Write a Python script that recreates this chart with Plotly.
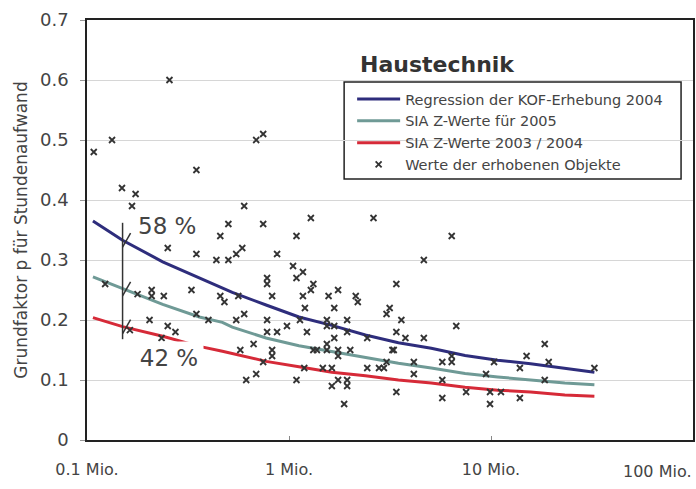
import numpy as np
import plotly.graph_objects as go

# ---- data (x in Mio., y = Grundfaktor p) ----
line_x = [0.107, 0.150, 0.237, 0.360, 0.468, 0.524, 0.770, 1.12, 1.63, 2.39,
          3.48, 5.06, 7.44, 10.8, 15.7, 23.2, 32.5]
kof_2004 = [0.365, 0.333, 0.297, 0.270, 0.252, 0.246, 0.225, 0.205, 0.191, 0.175,
            0.162, 0.153, 0.141, 0.133, 0.127, 0.120, 0.113]
sia_2005 = [0.272, 0.252, 0.226, 0.205, 0.196, 0.188, 0.170, 0.157, 0.147, 0.138,
            0.128, 0.120, 0.111, 0.105, 0.100, 0.095, 0.092]
sia_2003_2004 = [0.204, 0.189, 0.173, 0.156, 0.148, 0.144, 0.131, 0.122, 0.113, 0.107,
                 0.100, 0.095, 0.088, 0.083, 0.080, 0.075, 0.073]

obj_x = [0.256, 0.133, 0.108, 0.688, 0.745, 0.348, 0.149, 0.174, 0.167, 0.600,
         0.501, 0.745, 0.457, 1.089, 0.251, 0.587, 0.348, 0.437, 0.501, 0.548,
         0.873, 1.047, 1.089, 0.779, 0.779, 0.123, 0.178, 0.209, 0.209, 0.240,
         0.329, 0.457, 0.479, 0.825, 0.348, 0.600, 0.399, 0.548, 0.779, 0.204,
         0.163, 0.251, 0.274, 0.779, 0.873, 0.977, 0.234, 0.574, 0.668, 0.825,
         0.825, 0.614, 0.688, 1.283, 2.62, 1.172, 1.32, 1.283, 1.75, 3.40,
         0.561, 1.172, 1.57, 2.14, 2.19, 1.199, 1.675, 3.15, 3.04, 1.133,
         1.54, 1.94, 3.60, 1.227, 1.54, 1.675, 1.675, 1.94, 2.44, 3.40,
         3.77, 1.32, 1.374, 1.54, 1.54, 1.75, 1.75, 2.01, 3.25, 3.30,
         4.15, 3.04, 0.745, 1.19, 1.47, 1.63, 2.44, 2.79, 2.95, 1.089,
         1.75, 1.94, 4.15, 1.63, 1.94, 3.40, 1.875, 4.65, 6.73, 6.39,
         6.39, 5.74, 5.74, 5.74, 7.53, 4.65, 6.39, 18.45, 15.0, 19.3,
         10.35, 32.5, 13.9, 9.45, 18.45, 9.89, 11.2, 9.89, 13.9]
obj_y = [0.60, 0.50, 0.48, 0.50, 0.51, 0.45, 0.42, 0.41, 0.39, 0.39,
         0.36, 0.36, 0.34, 0.34, 0.32, 0.32, 0.31, 0.30, 0.30, 0.31,
         0.31, 0.29, 0.27, 0.27, 0.26, 0.26, 0.243, 0.25, 0.24, 0.24,
         0.25, 0.24, 0.23, 0.24, 0.21, 0.21, 0.20, 0.20, 0.20, 0.20,
         0.183, 0.19, 0.18, 0.18, 0.18, 0.19, 0.17, 0.15, 0.16, 0.15,
         0.14, 0.10, 0.11, 0.37, 0.37, 0.28, 0.26, 0.25, 0.25, 0.26,
         0.24, 0.24, 0.24, 0.24, 0.23, 0.22, 0.22, 0.22, 0.21, 0.20,
         0.20, 0.20, 0.20, 0.18, 0.19, 0.19, 0.17, 0.18, 0.17, 0.18,
         0.17, 0.15, 0.15, 0.16, 0.15, 0.15, 0.14, 0.15, 0.15, 0.15,
         0.13, 0.13, 0.13, 0.12, 0.12, 0.12, 0.12, 0.12, 0.12, 0.10,
         0.10, 0.10, 0.11, 0.09, 0.09, 0.08, 0.06, 0.30, 0.19, 0.14,
         0.13, 0.13, 0.10, 0.07, 0.08, 0.17, 0.34, 0.16, 0.14, 0.13,
         0.13, 0.12, 0.12, 0.11, 0.10, 0.08, 0.08, 0.06, 0.07]

x_tickvals = [0.1, 1, 10]
x_ticktext = ["0.1 Mio.", "1 Mio.", "10 Mio."]
last_tick_text = "100 Mio."

# bracket annotation (58 % / 42 %)
bracket_x = 0.15
bracket_y = (0.168, 0.362)

FONT = "DejaVu Sans"
TXT = "#444444"

fig = go.Figure()
fig.add_trace(go.Scatter(x=line_x, y=kof_2004, mode="lines",
                         name="Regression der KOF-Erhebung 2004",
                         line=dict(color="#2e2d7c", width=3)))
fig.add_trace(go.Scatter(x=line_x, y=sia_2005, mode="lines",
                         name="SIA Z-Werte für 2005",
                         line=dict(color="#6f9a96", width=3)))
fig.add_trace(go.Scatter(x=line_x, y=sia_2003_2004, mode="lines",
                         name="SIA Z-Werte 2003 / 2004",
                         line=dict(color="#d62a38", width=3)))
fig.add_trace(go.Scatter(x=obj_x, y=obj_y, mode="markers",
                         name="Werte der erhobenen Objekte",
                         marker=dict(symbol="x-thin", size=6,
                                     line=dict(color="#333333", width=1.8),
                                     color="#333333")))

# legend frame (white box over the grid)
fig.add_shape(type="rect", xref="paper", yref="paper", layer="between",
              x0=0.4243, x1=0.9803, y0=0.6214, y1=0.8524,
              fillcolor="white", line=dict(color="#222222", width=1.5))

# bracket vertical line + slashes
fig.add_shape(type="line", xref="x", yref="y", x0=bracket_x, x1=bracket_x,
              y0=bracket_y[0], y1=bracket_y[1],
              line=dict(color="#333333", width=1.5))
for series in (kof_2004, sia_2005, sia_2003_2004):
    fig.add_shape(type="line", xref="x", yref="y",
                  xsizemode="pixel", xanchor=bracket_x, x0=-8, x1=8,
                  ysizemode="pixel", yanchor=series[1], y0=-7, y1=7,
                  line=dict(color="#333333", width=1.5))

fig.add_annotation(x=np.log10(0.248), y=0.357, xref="x", yref="y",
                   text="58 %", showarrow=False,
                   font=dict(family=FONT, size=23, color=TXT))
fig.add_annotation(x=np.log10(0.255), y=0.137, xref="x", yref="y",
                   text="42 %", showarrow=False, bgcolor="white",
                   width=66, height=30,
                   font=dict(family=FONT, size=23, color=TXT))

fig.add_annotation(x=0.579, y=0.929, xref="paper", yref="paper",
                   text="<b>Haustechnik</b>", showarrow=False,
                   font=dict(family=FONT, size=22, color="#333333"))
fig.add_annotation(x=1.0, y=0, xref="paper", yref="paper", yshift=-31,
                   xanchor="right", yanchor="middle",
                   text=last_tick_text, showarrow=False,
                   font=dict(family=FONT, size=16, color=TXT))

fig.update_layout(
    width=696, height=489,
    margin=dict(l=87, r=1, t=20, b=49),
    paper_bgcolor="white", plot_bgcolor="white",
    font=dict(family=FONT, color=TXT),
    legend=dict(x=0.4375, y=0.85, xanchor="left", yanchor="top",
                bgcolor="rgba(0,0,0,0)", borderwidth=0,
                font=dict(family=FONT, size=14.5, color=TXT),
                itemwidth=43, tracegroupgap=0),
    xaxis=dict(type="log", range=[-1, 2], tickvals=x_tickvals, ticktext=x_ticktext,
               ticks="inside", ticklen=4, tickcolor="#888888",
               showgrid=False, showline=True, linecolor="#222222", linewidth=1.5,
               mirror=True, tickfont=dict(family=FONT, size=16, color=TXT),
               ticklabelstandoff=14, zeroline=False),
    yaxis=dict(range=[0, 0.7], dtick=0.1, ticks="outside", ticklen=5,
               tickcolor="#999999", showgrid=True, gridcolor="#d6d6d6", gridwidth=1,
               showline=True, linecolor="#222222", linewidth=1.5, mirror=True,
               tickfont=dict(family=FONT, size=18, color=TXT),
               ticklabelstandoff=8, zeroline=False,
               title=dict(text="Grundfaktor p für Stundenaufwand",
                          font=dict(family=FONT, size=17, color=TXT), standoff=8)),
)

fig.write_html("out.html", config={"displayModeBar": False},
               post_script="document.body.style.margin='0';"
                           "document.body.style.overflow='hidden';")
